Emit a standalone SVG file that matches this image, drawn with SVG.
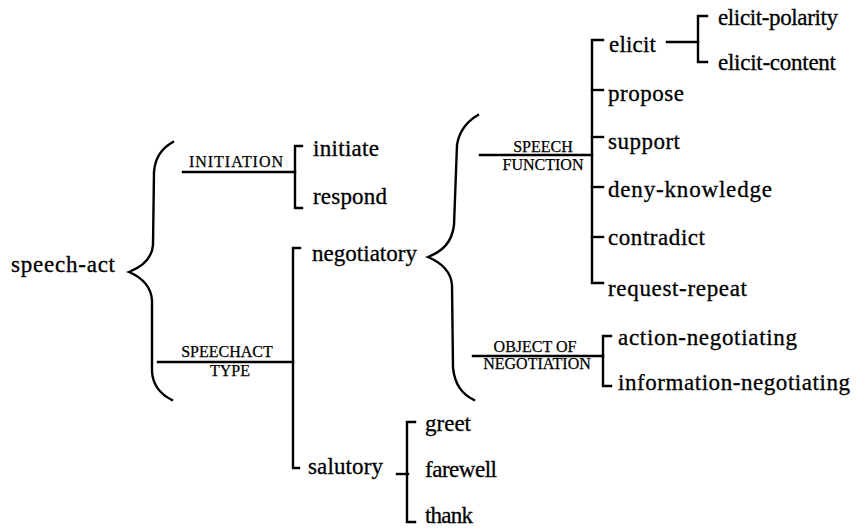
<svg xmlns="http://www.w3.org/2000/svg" width="857" height="530" viewBox="0 0 857 530">
<style>
text{fill:#000;stroke:#000;stroke-width:0.3;font-family:"Liberation Serif","Times New Roman",serif}
.t{font-size:23px}
.l{font-size:16px;stroke-width:0.25}
.m{text-anchor:middle}
path,line{stroke:#000;fill:none;stroke-width:2.4;stroke-linecap:square}
</style>
<rect width="857" height="530" fill="#fff"/>
<g id="connectors">
<path d="M173,142 C162,148 155,158 154,172 L153,245 C152,258 144,266 129,272 C143,278 151,288 152,300 L152,372 C153,385 160,394 172,400"/>
<line x1="183" y1="172" x2="295" y2="172"/>
<path d="M302,146 L295,146 L295,208 L302,208"/>
<line x1="158" y1="362" x2="293" y2="362"/>
<path d="M300,248 L293,248 L293,468 L299,468"/>
<path d="M478,115 C466,122 459,132 457,145 L454,225 C452,242 443,251 428,257 C442,263 451,272 452,285 L453,368 C455,385 462,394 474,400"/>
<line x1="480" y1="155" x2="592" y2="155"/>
<path d="M603,40 L592,40 L592,283 L603,283"/>
<line x1="592" y1="90" x2="603" y2="90"/>
<line x1="592" y1="137" x2="603" y2="137"/>
<line x1="592" y1="187" x2="603" y2="187"/>
<line x1="592" y1="237" x2="603" y2="237"/>
<line x1="667" y1="42" x2="698" y2="42"/>
<path d="M707,16 L698,16 L698,62 L707,62"/>
<line x1="473" y1="356" x2="603" y2="356"/>
<path d="M611,336 L603,336 L603,386 L611,386"/>
<line x1="397" y1="474" x2="408" y2="474"/>
<path d="M415,422 L407,422 L407,522 L415,522"/>
</g>
<g id="speech-act"><text class="t" x="11" y="272" textLength="104">speech-act</text></g>
<g id="initiation-label"><text class="l" x="189" y="167" textLength="94">INITIATION</text></g>
<g id="initiate"><text class="t" x="313" y="156" textLength="66">initiate</text></g>
<g id="respond"><text class="t" x="313" y="204" textLength="74">respond</text></g>
<g id="speechact-type-label"><text class="l m" x="227" y="357">SPEECHACT</text><text class="l m" x="230" y="376">TYPE</text></g>
<g id="negotiatory"><text class="t" x="312" y="261" textLength="105">negotiatory</text></g>
<g id="speech-function-label"><text class="l m" x="543" y="152">SPEECH</text><text class="l m" x="543" y="170">FUNCTION</text></g>
<g id="elicit"><text class="t" x="609" y="52" textLength="47">elicit</text></g>
<g id="elicit-polarity"><text class="t" x="718" y="25" textLength="120">elicit-polarity</text></g>
<g id="elicit-content"><text class="t" x="718" y="70" textLength="118">elicit-content</text></g>
<g id="propose"><text class="t" x="608" y="101" textLength="76">propose</text></g>
<g id="support"><text class="t" x="608" y="149" textLength="72">support</text></g>
<g id="deny-knowledge"><text class="t" x="608" y="197" textLength="164">deny-knowledge</text></g>
<g id="contradict"><text class="t" x="608" y="245" textLength="97">contradict</text></g>
<g id="request-repeat"><text class="t" x="608" y="296" textLength="139">request-repeat</text></g>
<g id="object-label"><text class="l m" x="535" y="352">OBJECT  OF</text><text class="l m" x="537" y="369">NEGOTIATION</text></g>
<g id="action-negotiating"><text class="t" x="618" y="345" textLength="179">action-negotiating</text></g>
<g id="information-negotiating"><text class="t" x="618" y="390" textLength="232">information-negotiating</text></g>
<g id="salutory"><text class="t" x="308" y="474" textLength="75">salutory</text></g>
<g id="greet"><text class="t" x="425" y="431" textLength="46">greet</text></g>
<g id="farewell"><text class="t" x="425" y="477" textLength="72">farewell</text></g>
<g id="thank"><text class="t" x="425" y="523" textLength="48">thank</text></g>
</svg>
